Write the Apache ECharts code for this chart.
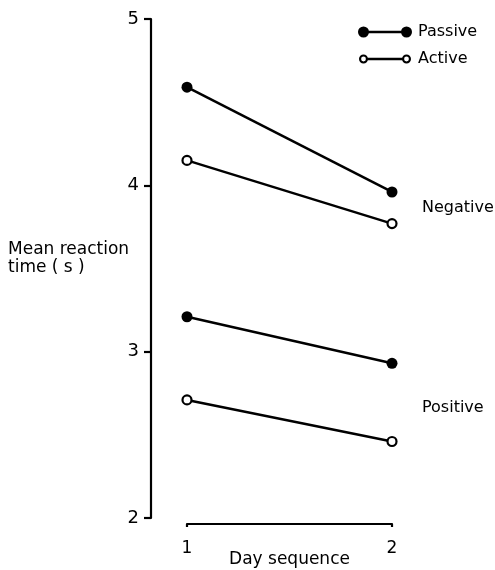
<!DOCTYPE html>
<html>
<head>
<meta charset="utf-8">
<style>
  html, body { margin: 0; padding: 0; background: #fff; }
  #chart { width: 495px; height: 570px; }
</style>
<script src="https://cdn.jsdelivr.net/npm/echarts@6/dist/echarts.min.js"></script>
</head>
<body>
<div id="chart"></div>
<script>
// Day of the session sequence
const days = [1, 2];
// Mean reaction time (s), negative feedback condition
const negativePassive = [4.59, 3.96];
const negativeActive = [4.15, 3.77];
// Mean reaction time (s), positive feedback condition
const positivePassive = [3.21, 2.93];
const positiveActive = [2.71, 2.46];
const yTicks = [2, 3, 4, 5];
const groupLabels = ['Negative', 'Positive'];

const FONT = 'DejaVu Sans';
const INK = '#000';

const pairs = vals => days.map((d, i) => [d, vals[i]]);

// legend glyphs: dot — line — dot
const filledIcon = 'path://M0,5.5A5.5,5.5 0 1 1 11,5.5A5.5,5.5 0 1 1 0,5.5Z' +
  'M43,5.5A5.5,5.5 0 1 1 54,5.5A5.5,5.5 0 1 1 43,5.5Z' +
  'M5.5,4.3L48.5,4.3L48.5,6.7L5.5,6.7Z';
const ring = (cx) =>
  'M' + (cx - 4.5) + ',5.5A4.5,4.5 0 1 1 ' + (cx + 4.5) + ',5.5A4.5,4.5 0 1 1 ' + (cx - 4.5) + ',5.5Z' +
  'M' + (cx - 2.4) + ',5.5A2.4,2.4 0 1 0 ' + (cx + 2.4) + ',5.5A2.4,2.4 0 1 0 ' + (cx - 2.4) + ',5.5Z';
const openIcon = 'path://M0,0M54,11' + ring(5.5) + ring(48.5) +
  'M9.8,4.3L44.2,4.3L44.2,6.7L9.8,6.7Z';

const passiveStyle = {
  type: 'line',
  symbol: 'circle',
  symbolSize: 11,
  itemStyle: { color: INK, borderWidth: 0 },
  lineStyle: { color: INK, width: 2.5 },
  z: 3
};
const activeStyle = {
  type: 'line',
  symbol: 'circle',
  symbolSize: 9,
  itemStyle: { color: '#fff', borderColor: INK, borderWidth: 2.2 },
  lineStyle: { color: INK, width: 2.5 },
  z: 3
};

const chart = echarts.init(document.getElementById('chart'), null, { renderer: 'canvas' });

chart.setOption({
  animation: false,
  backgroundColor: '#fff',
  textStyle: { fontFamily: FONT, color: INK },
  grid: { left: 187, right: 103, top: 19, bottom: 52, containLabel: false, outerBoundsMode: 'none' },
  legend: {
    orient: 'vertical',
    left: 358,
    top: 24,
    padding: 0,
    itemWidth: 54,
    itemHeight: 11,
    itemGap: 11,
    selectedMode: false,
    textStyle: { fontFamily: FONT, fontSize: 16, color: INK, padding: [0, 0, 0, 1] },
    data: [
      { name: 'Passive', icon: filledIcon, itemStyle: { color: INK, borderWidth: 0 } },
      { name: 'Active', icon: openIcon, itemStyle: { color: INK, borderWidth: 0 } }
    ]
  },
  xAxis: {
    type: 'value',
    min: days[0],
    max: days[days.length - 1],
    interval: 1,
    offset: 6,
    name: 'Day sequence',
    nameLocation: 'middle',
    nameGap: 27,
    nameMoveOverlap: false,
    nameTextStyle: { fontFamily: FONT, fontSize: 17, color: INK },
    splitLine: { show: false },
    axisLine: { lineStyle: { color: INK, width: 2.2 } },
    axisTick: { show: true, inside: false, length: 3, lineStyle: { color: INK, width: 2.2 } },
    axisLabel: { fontFamily: FONT, fontSize: 17, color: INK, margin: 16 }
  },
  yAxis: {
    type: 'value',
    min: yTicks[0],
    max: yTicks[yTicks.length - 1],
    interval: 1,
    offset: 36,
    splitLine: { show: false },
    axisLine: { show: true, lineStyle: { color: INK, width: 2.2 } },
    axisTick: { show: true, length: 7, lineStyle: { color: INK, width: 2.2 } },
    axisLabel: { fontFamily: FONT, fontSize: 18, color: INK, margin: 12 }
  },
  graphic: [
    {
      type: 'text',
      left: 8,
      top: 241,
      style: {
        text: 'Mean reaction\ntime ( s )',
        font: '17px "' + FONT + '"',
        lineHeight: 18,
        fill: INK
      }
    },
    {
      type: 'text',
      left: 422,
      top: 200,
      style: { text: groupLabels[0], font: '16px "' + FONT + '"', fill: INK }
    },
    {
      type: 'text',
      left: 422,
      top: 400,
      style: { text: groupLabels[1], font: '16px "' + FONT + '"', fill: INK }
    }
  ],
  series: [
    Object.assign({ name: 'Passive', data: pairs(negativePassive) }, passiveStyle),
    Object.assign({ name: 'Active', data: pairs(negativeActive) }, activeStyle),
    Object.assign({ name: 'Passive', data: pairs(positivePassive) }, passiveStyle),
    Object.assign({ name: 'Active', data: pairs(positiveActive) }, activeStyle)
  ]
});
</script>
</body>
</html>
